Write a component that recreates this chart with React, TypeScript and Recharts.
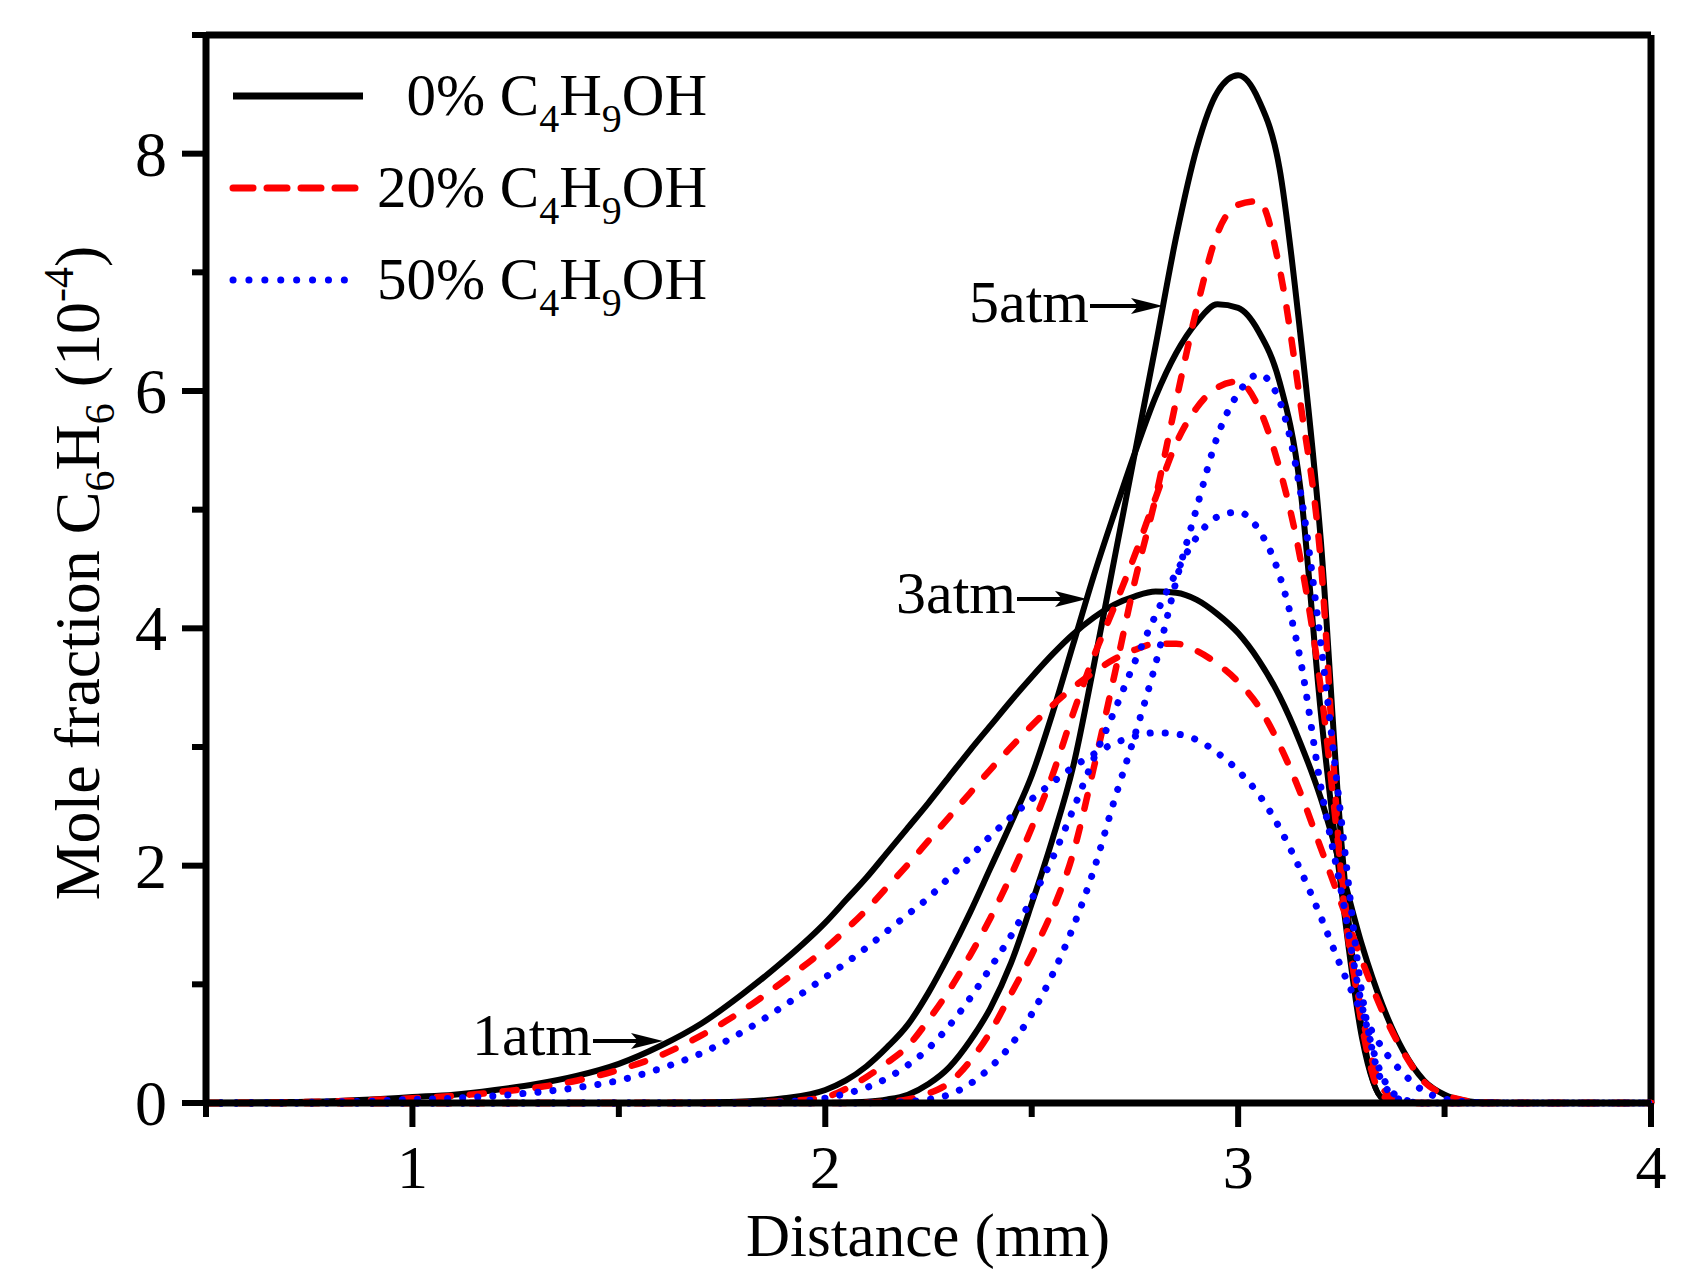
import { Line, LineChart, ReferenceLine, XAxis, YAxis } from "recharts";

const FONT = '"Liberation Serif", "Times New Roman", serif';

// distance (mm): coarse on the left tail, 0.05 steps through the flame zone
const DISTANCE = [
  0.5, 0.6, 0.7, 0.8, 0.9, 1.0, 1.1, 1.2, 1.3, 1.4, 1.5, 1.6, 1.7, 1.8, 1.9,
  2.0, 2.05, 2.1, 2.15, 2.2, 2.25, 2.3, 2.35, 2.4, 2.45, 2.5, 2.55, 2.6, 2.65, 2.7, 2.75, 2.8,
  2.85, 2.9, 2.95, 3.0, 3.05, 3.1, 3.15, 3.2, 3.25, 3.3, 3.35, 3.4, 3.45, 3.5, 3.55, 3.6,
  3.7, 3.8, 3.9, 4.0,
];

const Z15 = [0, 0, 0, 0, 0, 0, 0, 0, 0, 0, 0, 0, 0, 0, 0];
const Z4 = [0, 0, 0, 0];

// mole fraction C6H6 (1e-4), by pressure and butanol blend
const ATM1_0 = [
  0, 0.003, 0.008, 0.015, 0.03, 0.05, 0.07, 0.11, 0.16, 0.23, 0.33, 0.48, 0.67, 0.92, 1.2,
  1.52, 1.71, 1.9, 2.11, 2.32, 2.53, 2.75, 2.97, 3.18, 3.39, 3.59, 3.78, 3.95, 4.09, 4.2, 4.27, 4.31,
  4.3, 4.24, 4.12, 3.96, 3.73, 3.43, 3.04, 2.57, 1.97, 1.33, 0.82, 0.44, 0.19, 0.07, 0.02, 0.005,
  ...Z4,
];
const ATM1_20 = [
  0, 0.002, 0.006, 0.012, 0.025, 0.04, 0.06, 0.09, 0.13, 0.19, 0.28, 0.4, 0.57, 0.78, 1.03,
  1.3, 1.46, 1.63, 1.82, 2.01, 2.21, 2.41, 2.61, 2.81, 3.0, 3.18, 3.35, 3.5, 3.63, 3.74, 3.82, 3.87,
  3.87, 3.81, 3.7, 3.55, 3.34, 3.02, 2.62, 2.15, 1.68, 1.2, 0.77, 0.43, 0.18, 0.07, 0.02, 0.005,
  ...Z4,
];
const ATM1_50 = [
  0, 0.001, 0.004, 0.008, 0.015, 0.03, 0.04, 0.06, 0.09, 0.13, 0.19, 0.29, 0.42, 0.6, 0.82,
  1.06, 1.18, 1.31, 1.45, 1.59, 1.73, 1.9, 2.07, 2.25, 2.41, 2.56, 2.7, 2.83, 2.94, 3.03, 3.09, 3.12,
  3.11, 3.06, 2.95, 2.8, 2.6, 2.32, 1.97, 1.57, 1.14, 0.76, 0.46, 0.25, 0.1, 0.035, 0.01, 0.003,
  ...Z4,
];

const ATM3_0 = [
  0, 0, 0, 0, 0, 0, 0, 0, 0, 0, 0, 0.002, 0.005, 0.012, 0.04,
  0.11, 0.19, 0.31, 0.47, 0.66, 0.93, 1.25, 1.6, 1.98, 2.36, 2.76, 3.28, 3.86, 4.44, 4.97, 5.48, 5.95,
  6.32, 6.58, 6.73, 6.7, 6.5, 6.08, 5.2, 3.3, 1.8, 0.55, 0.04, 0, 0, 0, 0, 0,
  ...Z4,
];
const ATM3_20 = [
  0, 0, 0, 0, 0, 0, 0, 0, 0, 0, 0, 0, 0, 0.003, 0.015,
  0.05, 0.12, 0.22, 0.34, 0.48, 0.7, 0.95, 1.24, 1.56, 1.92, 2.32, 2.76, 3.28, 3.76, 4.18, 4.62, 5.1,
  5.56, 5.86, 6.03, 6.08, 5.86, 5.35, 4.6, 3.5, 1.95, 0.65, 0.06, 0.005, 0, 0, 0, 0,
  ...Z4,
];
const ATM3_50 = [
  0, 0, 0, 0, 0, 0, 0, 0, 0, 0, 0, 0, 0, 0, 0.01,
  0.04, 0.08, 0.13, 0.21, 0.32, 0.46, 0.65, 0.88, 1.14, 1.41, 1.72, 2.06, 2.47, 2.9, 3.3, 3.72, 4.11,
  4.47, 4.77, 4.94, 4.98, 4.83, 4.45, 3.75, 2.67, 1.78, 0.82, 0.22, 0.03, 0, 0, 0, 0,
  ...Z4,
];

const ATM5_0 = [
  ...Z15,
  0, 0.002, 0.01, 0.03, 0.07, 0.16, 0.3, 0.52, 0.8, 1.18, 1.68, 2.22, 2.83, 3.68, 4.58, 5.48, 6.38,
  7.3, 8.05, 8.52, 8.66, 8.45, 7.88, 6.5, 4.75, 2.2, 0.62, 0.04, 0, 0, 0, 0, 0,
  ...Z4,
];
const ATM5_20 = [
  ...Z15,
  0, 0.001, 0.005, 0.013, 0.03, 0.08, 0.17, 0.35, 0.6, 0.92, 1.25, 1.62, 2.1, 2.82, 3.6, 4.4, 5.1,
  5.92, 6.7, 7.33, 7.57, 7.6, 7.04, 5.92, 4.57, 1.9, 0.75, 0.12, 0.01, 0, 0, 0, 0,
  ...Z4,
];
const ATM5_50 = [
  ...Z15,
  0, 0, 0.002, 0.005, 0.012, 0.03, 0.07, 0.16, 0.3, 0.49, 0.75, 1.08, 1.48, 1.96, 2.55, 3.1, 3.7,
  4.4, 5.02, 5.62, 5.98, 6.14, 5.92, 5.17, 3.88, 2.38, 0.92, 0.17, 0.02, 0, 0, 0, 0,
  ...Z4,
];

const X_TICKS = [0.5, 1, 1.5, 2, 2.5, 3, 3.5, 4];
const Y_TICKS = [0, 1, 2, 3, 4, 5, 6, 7, 8, 9];

const LEGEND = ["0%", "20%", "50%"];

const rows = DISTANCE.map((x, i) => ({
  x,
  b1: ATM1_0[i],
  r1: ATM1_20[i],
  u1: ATM1_50[i],
  b3: ATM3_0[i],
  r3: ATM3_20[i],
  u3: ATM3_50[i],
  b5: ATM5_0[i],
  r5: ATM5_20[i],
  u5: ATM5_50[i],
}));

const solid = { stroke: "#000", strokeWidth: 6 };
const dashed = { stroke: "#ff0000", strokeWidth: 6.5, strokeDasharray: "14 19", strokeLinecap: "round" as const };
const dotted = { stroke: "#0000ff", strokeWidth: 7, strokeDasharray: "0.1 15", strokeLinecap: "round" as const };

function XTick(props: any) {
  const { x, y, payload } = props;
  const major = Number.isInteger(payload.value);
  return (
    <g>
      <line x1={x} x2={x} y1={y} y2={y + (major ? 24 : 14)} stroke="#000" strokeWidth={6} />
      {major && (
        <text x={x} y={y + 85} textAnchor="middle" fontSize={62} fontFamily={FONT} fill="#000">
          {payload.value}
        </text>
      )}
    </g>
  );
}

function YTick(props: any) {
  const { x, y, payload } = props;
  const major = payload.value % 2 === 0;
  return (
    <g>
      <line x1={x} x2={x - (major ? 24 : 14)} y1={y} y2={y} stroke="#000" strokeWidth={6} />
      {major && (
        <text x={x - 39} y={y + 22} textAnchor="end" fontSize={64} fontFamily={FONT} fill="#000">
          {payload.value}
        </text>
      )}
    </g>
  );
}

function Arrow({ x1, x2, y }: { x1: number; x2: number; y: number }) {
  return (
    <g>
      <line x1={x1} x2={x2 - 20} y1={y} y2={y} stroke="#000" strokeWidth={4} />
      <polygon points={`${x2},${y} ${x2 - 32},${y - 8} ${x2 - 25},${y} ${x2 - 32},${y + 8}`} fill="#000" />
    </g>
  );
}

function Overlay() {
  const sample = [solid, dashed, dotted];
  return (
    <svg width={1702} height={1283} style={{ position: "absolute", left: 0, top: 0, pointerEvents: "none" }}>
      {LEGEND.map((pct, i) => {
        const y = 96 + i * 92;
        const s: any = sample[i];
        return (
          <g key={pct}>
            <line x1={233} x2={i === 0 ? 363 : 355} y1={y} y2={y} {...s} strokeWidth={7}
              strokeDasharray={i === 1 ? "20 14" : i === 2 ? "0.1 15.8" : undefined} />
            <text x={707} y={y + 19} textAnchor="end" fontSize={59} fontFamily={FONT} fill="#000">
              {pct} C<tspan fontSize={40} dy={17}>4</tspan>
              <tspan dy={-17}>H</tspan>
              <tspan fontSize={40} dy={17}>9</tspan>
              <tspan dy={-17}>OH</tspan>
            </text>
          </g>
        );
      })}

      <text x={1089} y={322} textAnchor="end" fontSize={60} fontFamily={FONT} fill="#000">5atm</text>
      <Arrow x1={1090} x2={1163} y={306} />
      <text x={1016} y={613} textAnchor="end" fontSize={60} fontFamily={FONT} fill="#000">3atm</text>
      <Arrow x1={1017} x2={1087} y={599} />
      <text x={592} y={1055} textAnchor="end" fontSize={60} fontFamily={FONT} fill="#000">1atm</text>
      <Arrow x1={593} x2={663} y={1041} />

      <text x={928} y={1256} textAnchor="middle" fontSize={61} fontFamily={FONT} fill="#000">
        Distance (mm)
      </text>
      <text x={99} y={573} textAnchor="middle" fontSize={64} fontFamily={FONT} fill="#000"
        transform="rotate(-90, 99, 573)">
        Mole fraction C<tspan fontSize={42} dy={15}>6</tspan>
        <tspan dy={-15}>H</tspan>
        <tspan fontSize={42} dy={15}>6</tspan>
        <tspan dy={-15}> (10</tspan>
        <tspan fontSize={42} dy={-26}>-4</tspan>
        <tspan dy={26}>)</tspan>
      </text>
    </svg>
  );
}

export default function App() {
  return (
    <div style={{ position: "absolute", left: 0, top: 0, width: 1702, height: 1283, background: "#fff" }}>
      <LineChart width={1702} height={1283} data={rows} margin={{ top: 35, right: 51, bottom: 0, left: 0 }}>
        <XAxis
          dataKey="x"
          type="number"
          domain={[0.5, 4]}
          ticks={X_TICKS}
          interval={0}
          height={180}
          tickSize={0}
          tickMargin={0}
          tickLine={false}
          axisLine={{ stroke: "#000", strokeWidth: 7 }}
          tick={(p: any) => <XTick {...p} />}
        />
        <YAxis
          type="number"
          domain={[0, 9]}
          ticks={Y_TICKS}
          interval={0}
          width={206}
          tickSize={0}
          tickMargin={0}
          tickLine={false}
          axisLine={{ stroke: "#000", strokeWidth: 7 }}
          tick={(p: any) => <YTick {...p} />}
        />
        <ReferenceLine y={9} stroke="#000" strokeWidth={7} />
        <ReferenceLine x={4} stroke="#000" strokeWidth={7} />

        <Line dataKey="b1" type="monotone" dot={false} isAnimationActive={false} {...solid} />
        <Line dataKey="b3" type="monotone" dot={false} isAnimationActive={false} {...solid} />
        <Line dataKey="b5" type="monotone" dot={false} isAnimationActive={false} {...solid} />
        <Line dataKey="r1" type="monotone" dot={false} isAnimationActive={false} {...dashed} />
        <Line dataKey="r3" type="monotone" dot={false} isAnimationActive={false} {...dashed} />
        <Line dataKey="r5" type="monotone" dot={false} isAnimationActive={false} {...dashed} />
        <Line dataKey="u1" type="monotone" dot={false} isAnimationActive={false} {...dotted} />
        <Line dataKey="u3" type="monotone" dot={false} isAnimationActive={false} {...dotted} />
        <Line dataKey="u5" type="monotone" dot={false} isAnimationActive={false} {...dotted} />
      </LineChart>
      <Overlay />
    </div>
  );
}
